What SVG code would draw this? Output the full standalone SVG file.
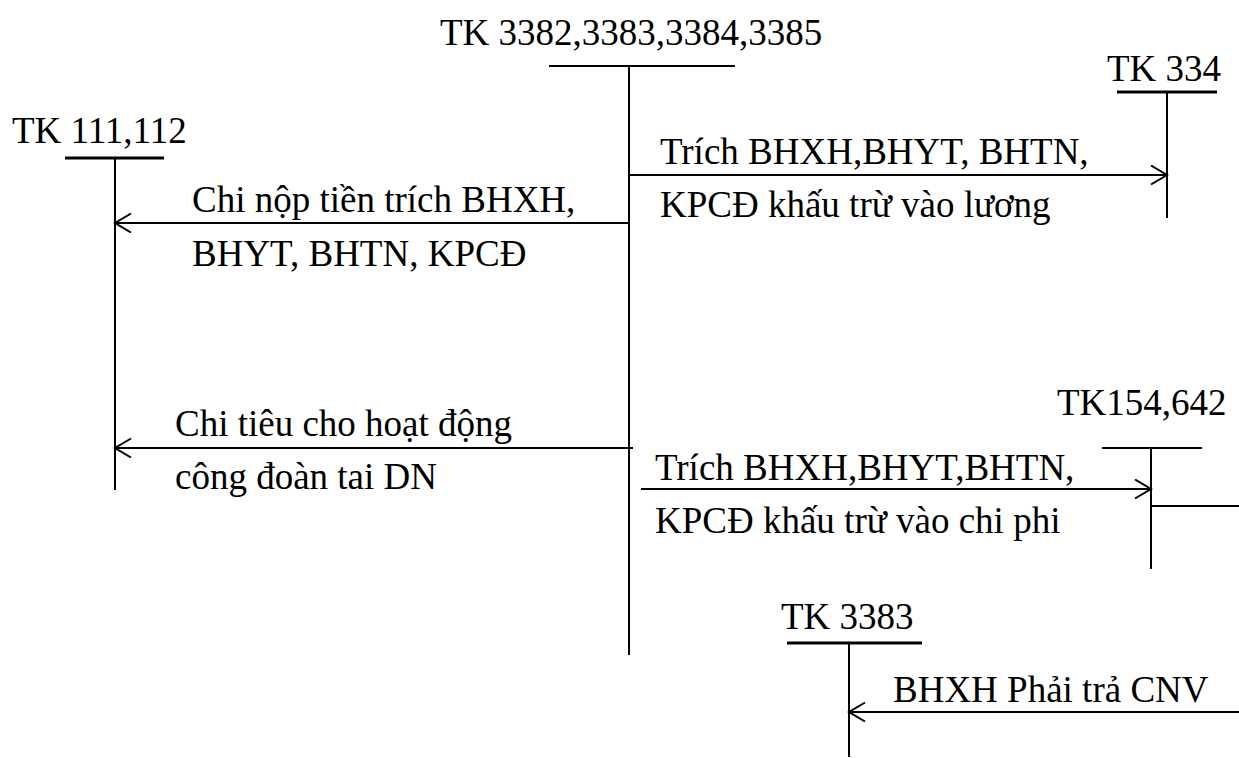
<svg xmlns="http://www.w3.org/2000/svg" width="1239" height="758" viewBox="0 0 1239 758">
<style>
text{font-family:"Liberation Serif","Times New Roman",serif;font-size:37px;fill:#000}
.l{stroke:#000;stroke-width:2;fill:none}
.u{stroke:#000;stroke-width:3;fill:none}
</style>
<defs>
<marker id="a" markerUnits="userSpaceOnUse" markerWidth="22" markerHeight="22" refX="17" refY="10" orient="auto">
<path d="M1,0.5 L17,10 L1,19.5" fill="none" stroke="#000" stroke-width="2"/>
</marker>
</defs>
<rect width="1239" height="758" fill="#fff"/>
<g id="tk338x">
<text x="440" y="45">TK 3382,3383,3384,3385</text>
<line class="l" x1="549" y1="66" x2="735" y2="66"/>
<line class="l" x1="629" y1="66" x2="629" y2="655"/>
</g>
<g id="tk334">
<text x="1107" y="81">TK 334</text>
<line class="u" x1="1117" y1="92" x2="1217" y2="92"/>
<line class="l" x1="1167" y1="92" x2="1167" y2="218"/>
</g>
<g id="tk111">
<text x="12" y="143">TK 111,112</text>
<line class="u" x1="65" y1="158" x2="164" y2="158"/>
<line class="l" x1="115" y1="158" x2="115" y2="490"/>
</g>
<g id="tk154">
<text x="1057" y="415">TK154,642</text>
<line class="l" x1="1102" y1="448" x2="1202" y2="448"/>
<line class="l" x1="1151" y1="448" x2="1151" y2="569"/>
<line class="l" x1="1151" y1="506" x2="1239" y2="506"/>
</g>
<g id="tk3383">
<text x="781" y="629">TK 3383</text>
<line class="u" x1="787" y1="643" x2="922" y2="643"/>
<line class="l" x1="849" y1="643" x2="849" y2="757"/>
</g>
<g id="connectors">
<line class="l" x1="629" y1="175" x2="1167" y2="175" marker-end="url(#a)"/>
<line class="l" x1="629" y1="223" x2="115" y2="223" marker-end="url(#a)"/>
<line class="l" x1="633" y1="448" x2="115" y2="448" marker-end="url(#a)"/>
<line class="l" x1="641" y1="489" x2="1151" y2="489" marker-end="url(#a)"/>
<line class="l" x1="1239" y1="712" x2="849" y2="712" marker-end="url(#a)"/>
</g>
<g id="labels">
<text x="660" y="164">Trích BHXH,BHYT, BHTN,</text>
<text x="660" y="217">KPCĐ khấu trừ vào lương</text>
<text x="192" y="212">Chi nộp tiền trích BHXH,</text>
<text x="192" y="266">BHYT, BHTN, KPCĐ</text>
<text x="175" y="436">Chi tiêu cho hoạt động</text>
<text x="175" y="489">công đoàn tai DN</text>
<text x="655" y="480">Trích BHXH,BHYT,BHTN,</text>
<text x="655" y="533">KPCĐ khấu trừ vào chi phi</text>
<text x="893" y="702">BHXH Phải trả CNV</text>
</g>
</svg>
